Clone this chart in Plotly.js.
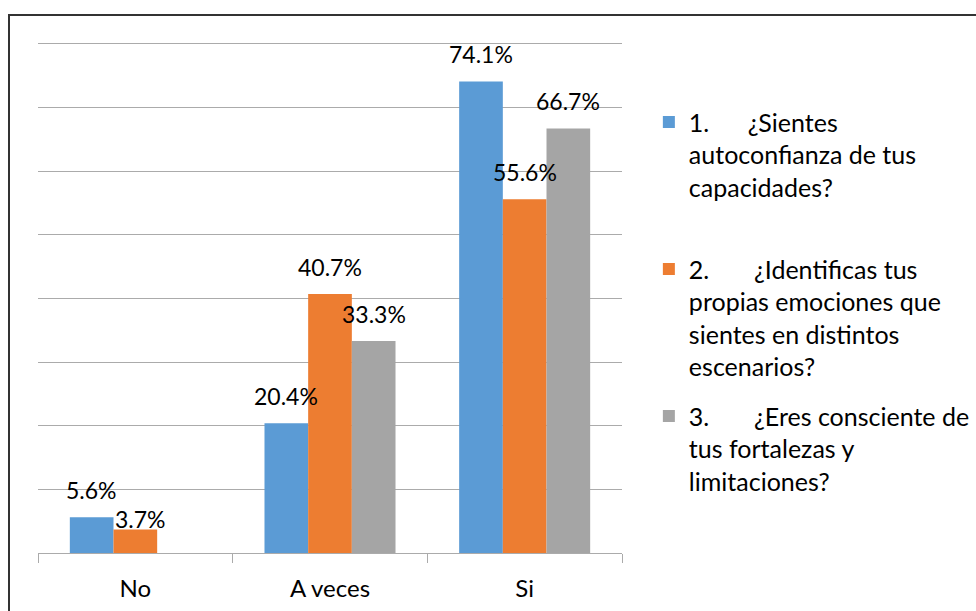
<!DOCTYPE html>
<html>
<head>
<meta charset="utf-8">
<script src="https://cdn.plot.ly/plotly-3.0.1.min.js"></script>
<style>
  html, body { margin: 0; padding: 0; background: #fff; }
  #chart { width: 976px; height: 611px; }
</style>
</head>
<body>
<div id="chart"></div>
<script>
// ---- data ----
const categories = ["No", "A veces", "Si"];
const seriesNames = [
  "1.\u00a0\u00a0\u00a0\u00a0\u00a0 ¿Sientes<br>autoconfianza de tus<br>capacidades?<br>\u00a0",
  "2.\u00a0\u00a0\u00a0\u00a0\u00a0\u00a0 ¿Identificas tus<br>propias emociones que<br>sientes en distintos<br>escenarios?",
  "3.\u00a0\u00a0\u00a0\u00a0\u00a0\u00a0 ¿Eres consciente de<br>tus fortalezas y<br>limitaciones?"
];
const serie1 = [5.6, 20.4, 74.1];
const serie2 = [3.7, 40.7, 55.6];
const serie3 = [0, 33.3, 66.7];
const seriesValues = [serie1, serie2, serie3];
const seriesColors = ["#5B9BD5", "#ED7D31", "#A5A5A5"];

// ---- styling ----
const FONT = "Lato, 'Open Sans', sans-serif";
const bargap = 0.327;
const grid = "#ababab";
// manual label nudges (series index, category index) -> [xshift, yshift]
const labelNudge = { "1,0": [5, 10] };

const traces = seriesValues.map((vals, s) => ({
  type: "bar",
  name: seriesNames[s],
  x: categories,
  y: vals,
  marker: { color: seriesColors[s] },
  legendgroup: "g" + s,
  hoverinfo: "none"
}));

const w = (1 - bargap) / seriesValues.length;
const annotations = [];
seriesValues.forEach((vals, s) => {
  vals.forEach((v, c) => {
    if (v === 0) return;
    const n = labelNudge[s + "," + c] || [0, 27.5];
    annotations.push({
      xref: "x", yref: "y",
      x: c + (s - (seriesValues.length - 1) / 2) * w,
      y: v,
      text: v.toFixed(1) + "%",
      showarrow: false,
      xanchor: "center", yanchor: "middle",
      xshift: n[0], yshift: n[1],
      font: { family: FONT, size: 23, color: "#000" }
    });
  });
});

const layout = {
  width: 976, height: 611,
  margin: { l: 38, r: 354, t: 42, b: 58, autoexpand: false },
  paper_bgcolor: "#fff", plot_bgcolor: "#fff",
  barmode: "group", bargap: bargap, bargroupgap: 0,
  font: { family: FONT, size: 22, color: "#000" },
  showlegend: true,
  legend: {
    x: 1.046, xanchor: "left", y: 0.888, yanchor: "top",
    valign: "top", traceorder: "grouped", tracegroupgap: 14,
    font: { family: FONT, size: 25, color: "#000" },
    bgcolor: "rgba(0,0,0,0)"
  },
  xaxis: {
    type: "category", range: [-0.5, 2.5],
    tickson: "boundaries", ticks: "outside", ticklen: 9, tickwidth: 1, tickcolor: grid,
    showline: true, linecolor: grid, linewidth: 1,
    showgrid: false, ticklabelstandoff: 14,
    tickfont: { family: FONT, size: 24, color: "#000" }
  },
  yaxis: {
    range: [0, 80.3], dtick: 10, tick0: 0,
    showticklabels: false, ticks: "",
    showgrid: true, gridcolor: grid, gridwidth: 1,
    zeroline: false, showline: false
  },
  annotations: annotations,
  shapes: [{
    type: "rect", xref: "paper", yref: "paper",
    x0: (9 - 38) / 584, x1: 2, y0: -1, y1: (553 - 15) / 511,
    line: { color: "#333", width: 2 }, fillcolor: "rgba(0,0,0,0)", layer: "above"
  }],
  hovermode: false
};

Plotly.newPlot("chart", traces, layout, { staticPlot: true, displayModeBar: false });
</script>
</body>
</html>
